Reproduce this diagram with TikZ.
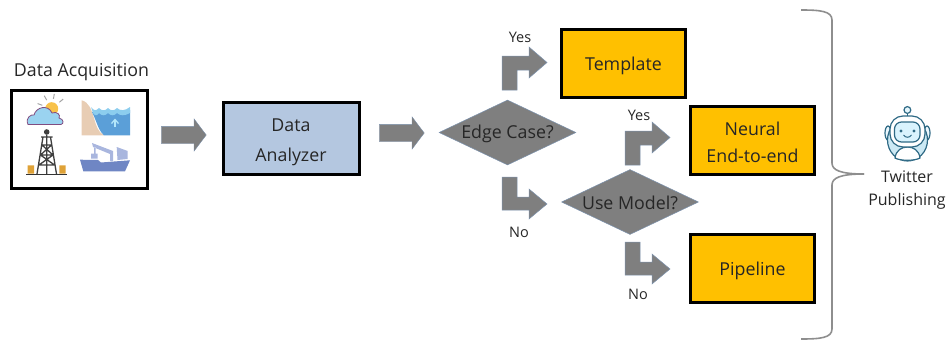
\documentclass[tikz,border=0pt]{standalone}
\usepackage{fontspec}
\setmainfont{Open Sans}
\usepackage{xcolor}
\usetikzlibrary{shapes.geometric,shapes.arrows}
\definecolor{flowgray}{HTML}{7F7F7F}
\definecolor{flowedge}{HTML}{7C92AE}
\definecolor{analyzerblue}{HTML}{B4C7E0}
\definecolor{outputgold}{HTML}{FFC000}
\definecolor{bracegray}{HTML}{8E8E8E}
\definecolor{robotteal}{HTML}{2F6A85}
\definecolor{cloudblue}{HTML}{9AD3F0}
\definecolor{sunyellow}{HTML}{F8C24A}
\definecolor{seablue}{HTML}{5B9FD8}
\definecolor{waveblue}{HTML}{8CCDEE}
\definecolor{sandtan}{HTML}{E8CDB4}
\definecolor{hullblue}{HTML}{6F86C4}
\definecolor{craneblue}{HTML}{A9B6DE}
\definecolor{barrelgold}{HTML}{DFA237}
\newcommand{\bentyes}[1]{\draw[flow shape,shift={(#1)}] (0,0) -- (0,-34) -- (27,-34) -- (27,-43) -- (45,-27.5) -- (27,-12) -- (27,-20) -- (15,-20) -- (15,0) -- cycle;}
\newcommand{\bentno}[1]{\draw[flow shape,shift={(#1)}] (0,0) -- (0,33) -- (27,33) -- (27,42) -- (45,27) -- (27,12) -- (27,20) -- (15,20) -- (15,0) -- cycle;}
\begin{document}
\begin{tikzpicture}[x=1pt,y=-1pt,font=\fontsize{17.8}{21}\selectfont,text=black!85]
        \tikzstyle{flow shape}=[fill=flowgray,draw=flowedge,line width=0.5]
        \tikzstyle{plain box}=[draw=black,line width=3,inner sep=0,align=center]
        \tikzstyle{output box}=[plain box,fill=outputgold,minimum width=124,minimum height=68]
        \tikzstyle{decision}=[diamond,aspect=2.1,fill=flowgray,draw=flowedge,line width=0.5,inner sep=0,minimum width=137,minimum height=65,text height=15.5pt]
        \tikzstyle{block arrow}=[single arrow,fill=flowgray,draw=flowedge,line width=0.3,inner sep=0,text height=17pt,text depth=0pt,minimum height=45,single arrow head extend=7.5,single arrow tip angle=106]
        \tikzstyle{small label}=[font=\fontsize{14.5}{17}\selectfont,inner sep=0]
        \tikzstyle{icon line}=[robotteal,line width=1.2]
        \useasboundingbox (0,0) rectangle (946,340);

        \node(acquisition)[inner sep=0,text height=17.5pt] at (81.5,70){Data Acquisition};
        \node(sources)[plain box,minimum width=136,minimum height=98] at (79.5,139){};
        \node(analyzer)[plain box,fill=analyzerblue,minimum width=136,minimum height=72] at (291,138){\rule{0pt}{22pt}Data\\[9pt]Analyzer};
        \node(arrowA)[block arrow] at (180.5,135){};
        \node(arrowB)[block arrow] at (398.5,133){};

        \node(edge)[decision] at (507.5,132.5){Edge Case?};
        \node(model)[decision] at (630,202){Use Model?};
        \node(template)[output box,text height=17.5pt] at (623.5,63.5){Template};
        \node(neural)[output box] at (752.5,140.5){\rule{0pt}{17pt}Neural\\[6pt]End-to-end};
        \node(pipeline)[output box,text height=17.5pt] at (752.5,268.5){Pipeline};

        \bentyes{502,90}
        \bentyes{625,165}
        \bentno{502,177}
        \bentno{625,242}
        \node(yesA)[small label] at (520,37){Yes};
        \node(noA)[small label] at (519,232){No};
        \node(yesB)[small label] at (639,115){Yes};
        \node(noB)[small label] at (638,294){No};

        \coordinate(braceTop) at (801,10);
        \coordinate(braceTip) at (864,174);
        \coordinate(braceEnd) at (801,339);
        \draw[bracegray,line width=1.6] (braceTop) .. controls (820,10) and (832,11) .. (832,20) -- (832,163)
            .. controls (832,170) and (840,174) .. (braceTip);
        \draw[bracegray,line width=1.6] (braceTip) .. controls (840,174) and (832,178) .. (832,185) -- (832,329)
            .. controls (832,338) and (820,339) .. (braceEnd);

        \node(twitter)[inner sep=0,align=center,font=\fontsize{16}{23}\selectfont] at (907,190.5){Twitter\\Publishing};

        % weather
        \foreach \a in {160,200,240,280,320}{\draw[gray!70,line width=1] (51.7,108.7)++(\a:10) -- ++(\a:5);}
        \fill[sunyellow] (51.7,108.7) circle (6.5);
        \draw[fill=cloudblue,draw=gray!60!violet,line width=0.8] (28,124.5) .. controls (25,118) and (31,114) .. (34,115)
            .. controls (36,107) and (48,104) .. (52,113) .. controls (57,111) and (61,115) .. (59,118)
            .. controls (64,119) and (64,124) .. (61,124.5) -- cycle;
        % sea level
        \fill[sandtan] (81.7,100.3) -- (81.7,135.3) -- (104,135.3) .. controls (92,130) and (96,104) .. cycle;
        \fill[seablue] (92,112) -- (130,110) -- (130,135.3) -- (104,135.3) .. controls (98,130) and (97,122) .. cycle;
        \fill[waveblue] (91,107) .. controls (94,111) and (96,111) .. (99,108) .. controls (102,111) and (105,111) .. (108,108)
            .. controls (111,111) and (114,111) .. (117,108) .. controls (120,111) and (125,111) .. (130,107) -- (130,113)
            .. controls (125,116) and (120,116) .. (117,113) .. controls (114,116) and (111,116) .. (108,113)
            .. controls (105,116) and (102,116) .. (99,113) .. controls (97,116) and (95,116) .. (93,113) -- cycle;
        \draw[white!70!cyan,line width=1.3] (115,127) -- (115,120);
        \draw[white!70!cyan,line width=1.3] (111.5,123.5) -- (115,119.5) -- (118.5,123.5);
        % oil rig
        \fill[black!75] (46.7,132) circle (2.8);
        \draw[black!75,line width=1.3] (41,137) -- (52.5,137) (43,137) -- (37,174) (50.5,137) -- (56.5,174)
            (42,145) -- (51.5,145) (40.5,155) -- (53,155) (39,165) -- (54.5,165)
            (42,145) -- (53,155) (51.5,145) -- (40.5,155) (40.5,155) -- (54.5,165) (53,155) -- (39,165)
            (46.7,135) -- (46.7,174);
        \draw[black!80,line width=1] (26,174.7) -- (67.3,174.7);
        \fill[barrelgold] (27.7,165.3) rectangle (34,173.7) (59.3,165.3) rectangle (65.7,173.7);
        % ship
        \fill[craneblue] (92,143) -- (113,151) -- (113,161) -- (110,161) -- (110,154) -- (93,147) -- cycle
            (91,153.7) rectangle (97.7,158.7) (94,147) rectangle (95.5,153.7) (116.7,147) -- (127.7,151) -- (127.7,159) -- (117.5,160) -- cycle;
        \fill[hullblue] (80,159.7) -- (98,160) -- (101,162.5) -- (130,160.3) -- (125,171.3) -- (83.3,171.3) -- cycle;
        % robot
        \draw[icon line] (907.4,116) -- (907.4,113.5);
        \draw[icon line,fill=cyan!10] (907.4,110) circle (3.4);
        \draw[icon line,fill=cyan!8] (888,133) ellipse (3 and 7) (927,133) ellipse (3 and 7);
        \draw[icon line,fill=gray!30!cyan!25] (907.5,140) ellipse (20 and 21);
        \draw[icon line,fill=white] (895,158) .. controls (896,150) and (902,147) .. (907.5,147) .. controls (913,147) and (919,150) .. (920,158)
            .. controls (915,161) and (900,161) .. cycle;
        \draw[icon line,fill=white,rounded corners=13] (890,116) rectangle (925,147);
        \draw[icon line,fill=cyan!15,rounded corners=7] (894.5,122) rectangle (920,142);
        \fill[robotteal] (901,131) circle (1.6) (914,131) circle (1.6);
        \draw[icon line,line width=1] (903.5,135) .. controls (905.5,138) and (909.5,138) .. (911.5,135);
    \end{tikzpicture}
\end{document}
